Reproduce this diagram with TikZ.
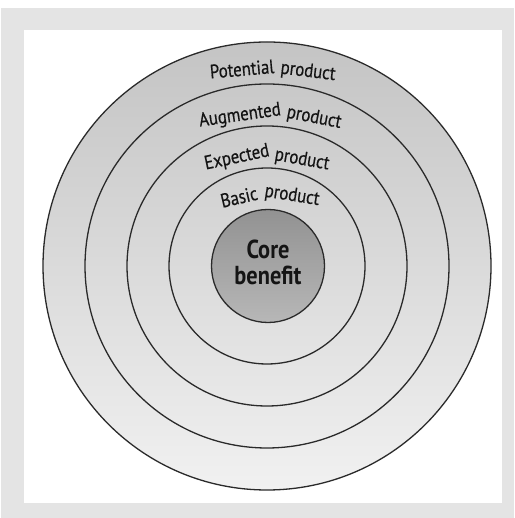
\documentclass[tikz,border=0pt]{standalone}
\usepackage{fontspec}
\setmainfont{PT Sans}[FakeStretch=0.86]
\definecolor{framegray}{HTML}{E4E4E4}
\definecolor{ringtop}{HTML}{C4C4C4}
\definecolor{ringmid}{HTML}{D9D9D9}
\definecolor{ringbot}{HTML}{F1F1F1}
\definecolor{coretop}{HTML}{929292}
\definecolor{corebot}{HTML}{B7B7B7}
\definecolor{inkline}{HTML}{2A2A2A}
\definecolor{txt}{HTML}{141414}
\tikzset{
  ringline/.style={draw=inkline, line width=1.3pt},
  ringword/.style={inner sep=0pt, text=txt, font=\fontsize{19.5}{22}\selectfont\addfontfeature{FakeBold=0.5}},
  corebox/.style={circle, ringline, minimum size=113pt, inner sep=0pt,
    top color=coretop, bottom color=corebot},
  coretext/.style={align=center, text=txt, inner sep=0pt,
    font=\fontsize{26}{26}\selectfont\bfseries}
}
\begin{document}
\begin{tikzpicture}[x=1pt,y=1pt]
\useasboundingbox (0,0) rectangle (514,518);
\fill[white] (0,0) rectangle (514,518);
\fill[framegray] (1,0) rectangle (514,510);
\fill[white] (24,15) rectangle (502,488);
\coordinate (C) at (267,252);
% shaded disc
\shade[top color=ringtop, middle color=ringmid, bottom color=ringbot] (C) circle[radius=224];
% ring outlines
\draw[ringline] (C) circle[radius=224];
\draw[ringline] (C) circle[radius=182];
\draw[ringline] (C) circle[radius=140];
\draw[ringline] (C) circle[radius=98];
% core
\node[corebox] (core) at (268,252) {};
\node[coretext] (corelabel) at (268,256) {Core\\benefit};
% ring labels (two words each, set on an arch)
\node[ringword, rotate=5]   (potA) at (242,449) {Potential};
\node[ringword, rotate=-7]  (potB) at (308,446) {product};
\node[ringword, rotate=8]   (augA) at (240,402) {Augmented};
\node[ringword, rotate=-11] (augB) at (314,400) {product};
\node[ringword, rotate=12]  (expA) at (237,360) {Expected};
\node[ringword, rotate=-10] (expB) at (302,358) {product};
\node[ringword, rotate=13]  (basA) at (239,321) {Basic};
\node[ringword, rotate=-9]  (basB) at (292,322) {product};
\end{tikzpicture}
\end{document}
